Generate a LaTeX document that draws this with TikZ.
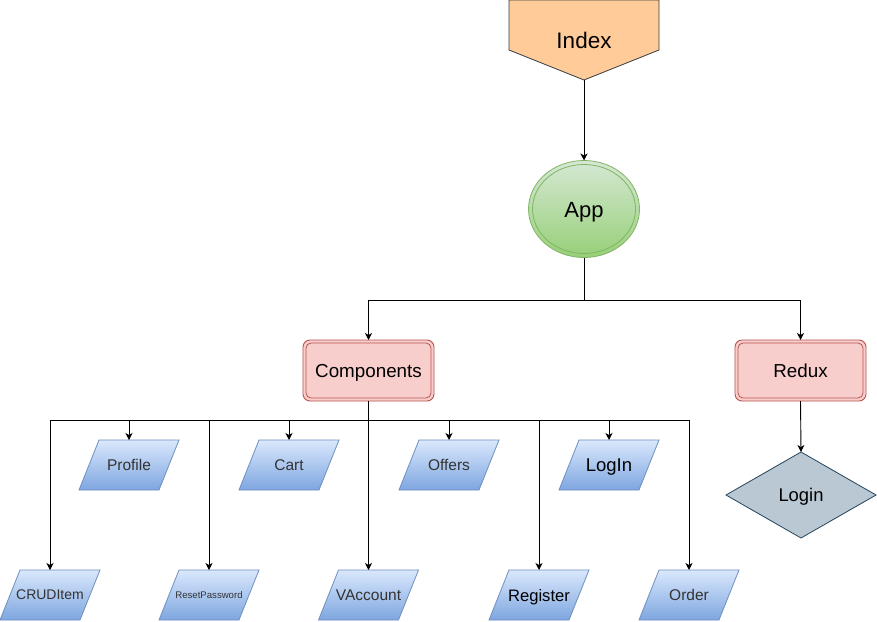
\documentclass[tikz,border=0pt]{standalone}
\usepackage{fontspec}
\setmainfont{Liberation Sans}
\usetikzlibrary{arrows.meta,shapes.geometric}

\definecolor{indexfill}{HTML}{FFCC99}
\definecolor{indexline}{HTML}{36393D}
\definecolor{apptop}{HTML}{D5E8D4}
\definecolor{appbot}{HTML}{97D077}
\definecolor{appline}{HTML}{82B366}
\definecolor{redfill}{HTML}{F8CECC}
\definecolor{redline}{HTML}{B85450}
\definecolor{iotop}{HTML}{DAE8FC}
\definecolor{iobot}{HTML}{7EA6E0}
\definecolor{ioline}{HTML}{6C8EBF}
\definecolor{gemfill}{HTML}{BAC8D3}
\definecolor{gemline}{HTML}{23445D}
\definecolor{softtext}{HTML}{333333}

\tikzset{
  arr/.style={draw=black, line width=0.9pt, -{Stealth[length=7pt,width=7pt,inset=2pt]}},
  plain/.style={inner sep=0pt, outer sep=0pt, text depth=0pt},
  redbox/.style={plain, draw=redline, fill=redfill, line width=0.9pt, rounded corners=7pt,
                 minimum width=131pt, minimum height=61pt, font=\fontsize{18.8}{22}\selectfont},
  ioshade/.style={draw=ioline, line width=0.8pt, top color=iotop, bottom color=iobot},
  iotext/.style={plain, minimum width=100pt, minimum height=50pt, text=softtext,
                 font=\fontsize{15.5}{18}\selectfont},
}

% data-style parallelogram with a named text node at its centre
\newcommand\ioblock[5]{%
  \path[ioshade] ({#2-30},{#3-25}) -- ({#2+50},{#3-25}) -- ({#2+30},{#3+25}) -- ({#2-50},{#3+25}) -- cycle;
  \node[iotext,#4] (#1) at (#2,#3) {#5};}

\begin{document}
\begin{tikzpicture}[x=1pt,y=-1pt]
  \useasboundingbox[fill=white] (0,0) rectangle (877,621);

  % Index (off-page connector)
  \path[fill=indexfill, draw=indexline, line width=0.8pt]
    (509,0) -- (659,0) -- (659,50) -- (584,80) -- (509,50) -- cycle;
  \node[plain, minimum width=150pt, minimum height=80pt] (index) at (584,40) {};
  \node[plain, font=\fontsize{22.5}{26}\selectfont] (indexlabel) at (584,40.5) {Index};

  % App (double ellipse)
  \node[plain, ellipse, minimum width=111pt, minimum height=97pt, draw=appline, line width=0.8pt,
        top color=apptop, bottom color=appbot] (app) at (584,209) {};
  \draw[appline, line width=0.8pt] (app.center) ellipse [x radius=51.5, y radius=44.5];
  \node[plain, font=\fontsize{22}{26}\selectfont] (applabel) at (584,210) {App};

  % Components and Redux (double rounded boxes)
  \node[redbox] (comp) at (368.5,370.5) {Components};
  \draw[redline, line width=0.8pt, rounded corners=5pt]
    ([shift={(3,3)}]comp.north west) rectangle ([shift={(-3,-3)}]comp.south east);
  \node[redbox] (redux) at (800.5,370.5) {Redux};
  \draw[redline, line width=0.8pt, rounded corners=5pt]
    ([shift={(3,3)}]redux.north west) rectangle ([shift={(-3,-3)}]redux.south east);

  % Login (diamond)
  \path[fill=gemfill, draw=gemline, line width=0.8pt]
    (801,452) -- (876,495) -- (801,538) -- (726,495) -- cycle;
  \node[plain, minimum width=150pt, minimum height=86pt, font=\fontsize{18.4}{22}\selectfont]
    (login) at (801,495) {Login};

  % component children
  \ioblock{profile}{129}{465}{}{Profile}
  \ioblock{cart}{289}{465}{}{Cart}
  \ioblock{offers}{449}{465}{}{Offers}
  \ioblock{loginpage}{609}{465}{text=black, font=\fontsize{18.5}{22}\selectfont}{LogIn}
  \ioblock{crud}{50}{595}{font=\fontsize{14}{17}\selectfont}{CRUDItem}
  \ioblock{reset}{209}{595}{font=\fontsize{9.6}{12}\selectfont}{ResetPassword}
  \ioblock{vaccount}{368.5}{595}{}{VAccount}
  \ioblock{register}{539}{595}{text=black, font=\fontsize{16.6}{20}\selectfont}{Register}
  \ioblock{order}{689}{595}{}{Order}

  % connectors
  \coordinate (appsplit) at (584,300);
  \coordinate (compsplit) at (368.5,420);
  \draw[arr] (index.south) -- (app.north);
  \draw[arr] (app.south) -- (appsplit) -| (comp.north);
  \draw[arr] (appsplit) -| (redux.north);
  \draw[arr] (redux.south) -- (login.north);
  \draw[arr] (comp.south) -- (compsplit) -| (crud.north);
  \draw[arr] (compsplit) -| (profile.north);
  \draw[arr] (compsplit) -| (reset.north);
  \draw[arr] (compsplit) -| (cart.north);
  \draw[arr] (compsplit) -- (vaccount.north);
  \draw[arr] (compsplit) -| (offers.north);
  \draw[arr] (compsplit) -| (register.north);
  \draw[arr] (compsplit) -| (loginpage.north);
  \draw[arr] (compsplit) -| (order.north);
\end{tikzpicture}
\end{document}
